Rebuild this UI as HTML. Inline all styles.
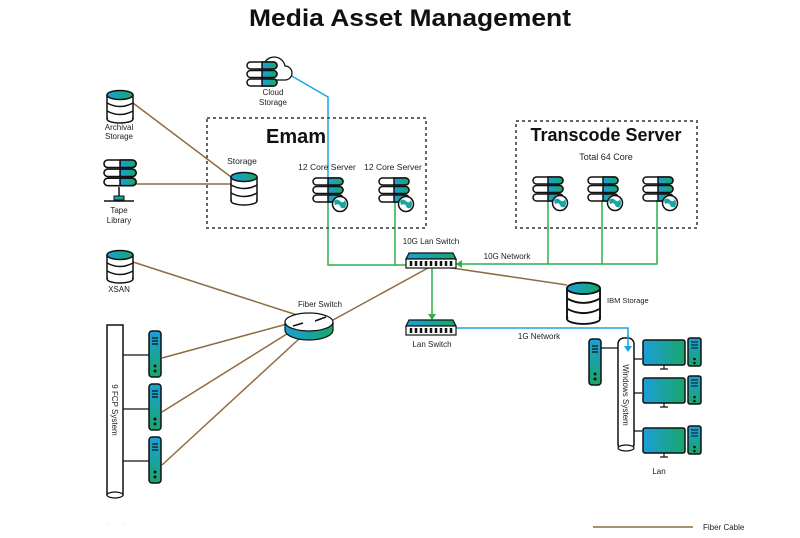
<!DOCTYPE html>
<html><head><meta charset="utf-8"><style>
html,body{margin:0;padding:0;background:#fff;}
svg{display:block;font-family:"Liberation Sans",sans-serif;}
</style></head><body>
<svg width="800" height="538" viewBox="0 0 800 538" xmlns="http://www.w3.org/2000/svg">
<defs>
<linearGradient id="g" x1="0" y1="0" x2="1" y2="0"><stop offset="0" stop-color="#1a9fd9"/><stop offset="1" stop-color="#19a66a"/></linearGradient>
<linearGradient id="gv" x1="0" y1="0" x2="0" y2="1"><stop offset="0" stop-color="#1a9fd9"/><stop offset="1" stop-color="#19a66a"/></linearGradient>
<g id="stack">
<rect x="0" y="0" width="30" height="7" rx="3.5" fill="#fff" stroke="#111" stroke-width="1.5"/><path d="M15 0h11.5a3.5 3.5 0 0 1 0 7H15z" fill="url(#g)" stroke="#111" stroke-width="1.5"/>
<rect x="0" y="8.5" width="30" height="7" rx="3.5" fill="#fff" stroke="#111" stroke-width="1.5"/><path d="M15 8.5h11.5a3.5 3.5 0 0 1 0 7H15z" fill="url(#g)" stroke="#111" stroke-width="1.5"/>
<rect x="0" y="17" width="30" height="7" rx="3.5" fill="#fff" stroke="#111" stroke-width="1.5"/><path d="M15 17h11.5a3.5 3.5 0 0 1 0 7H15z" fill="url(#g)" stroke="#111" stroke-width="1.5"/>
</g>
<g id="srv">
<use href="#stack"/>
<circle cx="27" cy="26" r="7.5" fill="#fff" stroke="#111" stroke-width="1.5"/>
<path d="M21 23q3-3 6 0t5-1q2 4 0 8q-4 1-5-2t-5-1z" fill="#1aa6a0"/>
</g>
<g id="db">
<rect x="0.75" y="5" width="24.5" height="24" fill="#fff"/>
<ellipse cx="13" cy="29" rx="13" ry="4" fill="#fff" stroke="#111" stroke-width="1.5"/>
<rect x="0.75" y="5" width="24.5" height="23" fill="#fff"/>
<line x1="0" y1="5" x2="0" y2="29" stroke="#111" stroke-width="1.5"/><line x1="26" y1="5" x2="26" y2="29" stroke="#111" stroke-width="1.5"/>
<path d="M0 13q13 7 26 0M0 21q13 7 26 0" fill="none" stroke="#111" stroke-width="1.5"/>
<ellipse cx="13" cy="5" rx="13" ry="4.5" fill="url(#g)" stroke="#111" stroke-width="1.5"/>
</g>
<g id="sw">
<path d="M3 0h44l3 6H0z" fill="url(#g)" stroke="#111" stroke-width="1.2"/>
<rect x="0" y="6" width="50" height="9" fill="#fff" stroke="#111" stroke-width="1.2"/>
<path d="M5 8v5M10 8v5M15 8v5M20 8v5M25 8v5M30 8v5M35 8v5M40 8v5M45 8v5" stroke="#111" stroke-width="2.5"/>
</g>
<g id="tw">
<rect x="0" y="0" width="12" height="46" rx="3" fill="url(#gv)" stroke="#111" stroke-width="1.5"/>
<path d="M3 7h6M3 10h6M3 13h6" stroke="#111" stroke-width="1.2"/>
<circle cx="6" cy="35" r="1.5" fill="#111"/><circle cx="6" cy="40" r="1.5" fill="#111"/>
</g>
<g id="pc">
<rect x="0" y="0" width="42" height="25" rx="2" fill="url(#g)" stroke="#111" stroke-width="1.5"/>
<path d="M21 25v4M17 29h8" stroke="#111" stroke-width="1.2"/>
<rect x="45" y="-2" width="13" height="28" rx="2" fill="url(#gv)" stroke="#111" stroke-width="1.5"/>
<path d="M48 2h7M48 5h7M48 8h7" stroke="#111" stroke-width="1"/><circle cx="51.5" cy="19" r="1.3" fill="#111"/><circle cx="51.5" cy="23" r="1.3" fill="#111"/>
</g>
</defs>

<text x="410" y="26" text-anchor="middle" font-size="24" font-weight="bold" fill="#111" textLength="322" lengthAdjust="spacingAndGlyphs">Media Asset Management</text>

<!-- fiber lines -->
<g stroke="#8e6c42" stroke-width="1.5" fill="none">
<line x1="133" y1="103" x2="235" y2="180"/>
<line x1="135" y1="184" x2="232" y2="184"/>
<line x1="133" y1="262" x2="297" y2="315"/>
<line x1="162" y1="358" x2="287" y2="324"/>
<line x1="162" y1="412" x2="290" y2="332"/>
<line x1="162" y1="465" x2="300" y2="338"/>
<line x1="333" y1="320" x2="428" y2="268"/>
<line x1="445" y1="267" x2="567" y2="285"/>
<line x1="593" y1="527" x2="693" y2="527"/>
</g>

<!-- blue lines -->
<path d="M290 75L328 97V185" stroke="#1ba3e0" stroke-width="1.5" fill="none"/>
<path d="M456 328H628V348" stroke="#1ba3e0" stroke-width="1.5" fill="none"/>

<!-- green lines -->
<g stroke="#2bb04a" stroke-width="1.5" fill="none">
<path d="M328 200V265H406M395 200V265"/>
<path d="M657 200V264H456M548 200V264M602 200V264"/>
<path d="M432 268V316"/>
</g>
<path d="M456 264l6-4v8z" fill="#2bb04a"/>
<path d="M428 314l4 6 4-6z" fill="#2bb04a"/>

<!-- boxes -->
<rect x="207" y="118" width="219" height="110" fill="none" stroke="#666" stroke-width="2" stroke-dasharray="3,3"/>
<rect x="516" y="121" width="181" height="107" fill="none" stroke="#666" stroke-width="2" stroke-dasharray="3,3"/>
<text x="296" y="143" text-anchor="middle" font-size="20" font-weight="bold" fill="#111">Emam</text>
<text x="606" y="141" text-anchor="middle" font-size="18" font-weight="bold" fill="#111">Transcode Server</text>
<text x="606" y="160" text-anchor="middle" font-size="9" fill="#222">Total 64 Core</text>

<!-- cloud -->
<path d="M262 80h23a7 7 0 0 0 0-14a11 11 0 0 0-20-4a7 7 0 0 0-6 7z" fill="#fff" stroke="#111" stroke-width="1.3"/>
<use href="#stack" x="247" y="62"/>
<text x="273" y="95" text-anchor="middle" font-size="8" fill="#222">Cloud</text>
<text x="273" y="105" text-anchor="middle" font-size="8" fill="#222">Storage</text>

<!-- emam contents -->
<text x="242" y="164" text-anchor="middle" font-size="8.5" fill="#222">Storage</text>
<use href="#db" x="231" y="172"/>
<text x="327" y="170" text-anchor="middle" font-size="8.5" fill="#222">12 Core Server</text>
<text x="393" y="170" text-anchor="middle" font-size="8.5" fill="#222">12 Core Server</text>
<use href="#srv" x="313" y="178"/>
<use href="#srv" x="379" y="178"/>

<!-- transcode servers -->
<use href="#srv" x="533" y="177"/>
<use href="#srv" x="588" y="177"/>
<use href="#srv" x="643" y="177"/>

<!-- left items -->
<use href="#db" x="107" y="90"/>
<text x="119" y="130" text-anchor="middle" font-size="8" fill="#222">Archival</text>
<text x="119" y="139" text-anchor="middle" font-size="8" fill="#222">Storage</text>
<g transform="translate(104,160) scale(1.07)"><use href="#stack"/></g>
<path d="M119 187v10M104 201h30" stroke="#111" stroke-width="1.5"/>
<rect x="114" y="196" width="10" height="4" fill="url(#g)" stroke="#111" stroke-width="1"/>
<text x="119" y="213" text-anchor="middle" font-size="8" fill="#222">Tape</text>
<text x="119" y="223" text-anchor="middle" font-size="8" fill="#222">Library</text>
<use href="#db" x="107" y="250"/>
<text x="119" y="292" text-anchor="middle" font-size="8" fill="#222">XSAN</text>

<!-- fiber switch -->
<text x="320" y="307" text-anchor="middle" font-size="8" fill="#222">Fiber Switch</text>
<path d="M285 322v8a24 10 0 0 0 48 0v-8" fill="url(#g)" stroke="#111" stroke-width="1.2"/>
<ellipse cx="309" cy="322" rx="24" ry="9" fill="#fff" stroke="#111" stroke-width="1.2"/>
<path d="M293 326l10-3M315 321l11-4" stroke="#111" stroke-width="1.5"/>

<!-- FCP -->
<rect x="107" y="325" width="16" height="170" fill="#fff" stroke="#111" stroke-width="1.5"/>
<ellipse cx="115" cy="495" rx="8" ry="3" fill="#fff" stroke="#111" stroke-width="1.2"/>
<text transform="translate(112,410) rotate(90)" text-anchor="middle" font-size="8" fill="#222">9 FCP System</text>
<path d="M123 355h26M123 409h26M123 461h26" stroke="#111" stroke-width="1.2"/>
<use href="#tw" x="149" y="331"/>
<use href="#tw" x="149" y="384"/>
<use href="#tw" x="149" y="437"/>

<!-- switches -->
<text x="431" y="244" text-anchor="middle" font-size="8" fill="#222">10G Lan Switch</text>
<use href="#sw" x="406" y="253"/>
<text x="507" y="259" text-anchor="middle" font-size="8" fill="#222">10G Network</text>
<use href="#sw" x="406" y="320"/>
<text x="432" y="347" text-anchor="middle" font-size="8" fill="#222">Lan Switch</text>
<text x="539" y="339" text-anchor="middle" font-size="8" fill="#222">1G Network</text>

<!-- IBM -->
<g transform="translate(567,282) scale(1.27)"><use href="#db"/></g>
<text x="607" y="303" font-size="7.5" fill="#222">IBM Storage</text>

<!-- windows -->
<use href="#tw" x="589" y="339"/>
<path d="M601 348h17M634 359h8M634 393h8M634 431h8" stroke="#111" stroke-width="1.2"/>
<rect x="618" y="338" width="16" height="112" rx="6" fill="#fff" stroke="#111" stroke-width="1.5"/>
<ellipse cx="626" cy="448" rx="8" ry="3" fill="#fff" stroke="#111" stroke-width="1.2"/>
<path d="M628 335V348" stroke="#1ba3e0" stroke-width="1.5"/><path d="M624 346l4 6 4-6z" fill="#1ba3e0"/>
<text transform="translate(623,395) rotate(90)" text-anchor="middle" font-size="8" fill="#222">Windows System</text>
<use href="#pc" x="643" y="340"/>
<use href="#pc" x="643" y="378"/>
<use href="#pc" x="643" y="428"/>
<text x="659" y="474" text-anchor="middle" font-size="8" fill="#222">Lan</text>

<text x="703" y="530" font-size="8" fill="#222">Fiber Cable</text>
<text x="106" y="525" font-size="6" fill="#888">·</text><text x="122" y="525" font-size="6" fill="#888">·</text>
</svg>
</body></html>
